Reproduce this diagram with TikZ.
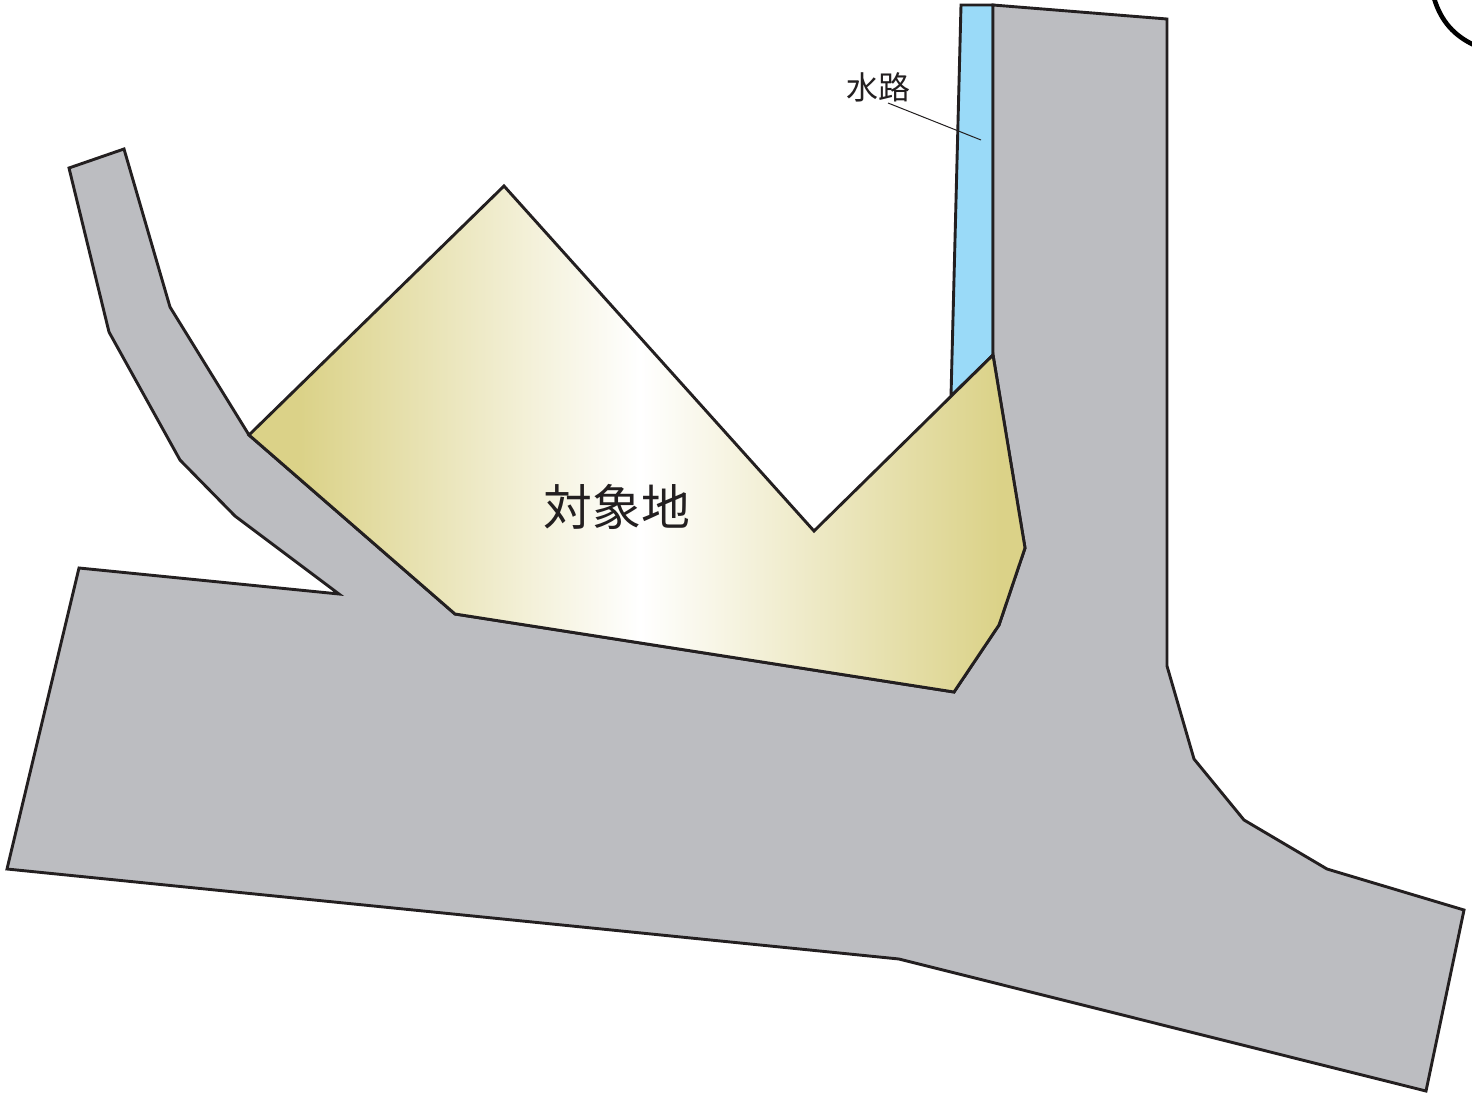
\documentclass[tikz,border=0pt]{standalone}
\usepackage{fontspec}
\newfontfamily\cjk{Noto Sans CJK JP}[Scale=1]
\definecolor{roadgray}{RGB}{188,189,193}
\definecolor{water}{RGB}{154,218,248}
\definecolor{sand}{RGB}{219,210,136}
\definecolor{ink}{RGB}{35,31,32}
\tikzset{px/.style={x=0.5pt,y=-0.5pt},edge/.style={draw=ink,line width=1.45pt,line join=miter}}
\begin{document}
\begin{tikzpicture}[px]
\useasboundingbox (0,0) rectangle (1472,1097);
\fill[white] (0,0) rectangle (1472,1097);
\draw[edge,fill=water] (961,5) -- (993,5) -- (993,355) -- (951,396) -- cycle;
\draw[edge,fill=roadgray] (993,5) -- (1167,19) -- (1167,666) -- (1194,759) -- (1244,820) -- (1327,869) -- (1464,910) -- (1426,1091) -- (899,959) -- (7,869) -- (79,568) -- (339,594) -- (235,516) -- (180,460) -- (109,332) -- (69,168) -- (124,149) -- (170,307) -- (249,435) -- (455,614) -- (954,692) -- (999,625) -- (1025,548) -- (993,355) -- cycle;
\begin{scope}
\clip (249,435) -- (504,186) -- (814,531) -- (993,355) -- (1025,548) -- (999,625) -- (954,692) -- (455,614) -- cycle;
\shade[left color=sand,right color=white] (300,150) rectangle (640,700);
\shade[left color=white,right color=sand] (640,150) rectangle (1000,700);
\fill[sand] (200,150) rectangle (300,700);
\fill[sand] (1000,150) rectangle (1030,700);
\end{scope}
\draw[edge] (249,435) -- (504,186) -- (814,531) -- (993,355) -- (1025,548) -- (999,625) -- (954,692) -- (455,614) -- cycle;
\node[inner sep=0pt,text=ink] (site) at (617,507) {\cjk\fontsize{24.4}{27}\selectfont 対象地};
\node[inner sep=0pt,text=ink] (wlabel) at (878,87) {\cjk\fontsize{16}{18}\selectfont 水路};
\coordinate (wend) at (981,140);
\coordinate (wstart) at (888,103);
\draw[ink,line width=0.5pt] (wstart) -- (wend);
\begin{scope}
\clip (0,0) rectangle (1472,1097);
\draw[black,line width=2.3pt] (1434,-2) .. controls (1441,22) and (1455,36) .. (1474,45);
\end{scope}
\end{tikzpicture}
\end{document}
